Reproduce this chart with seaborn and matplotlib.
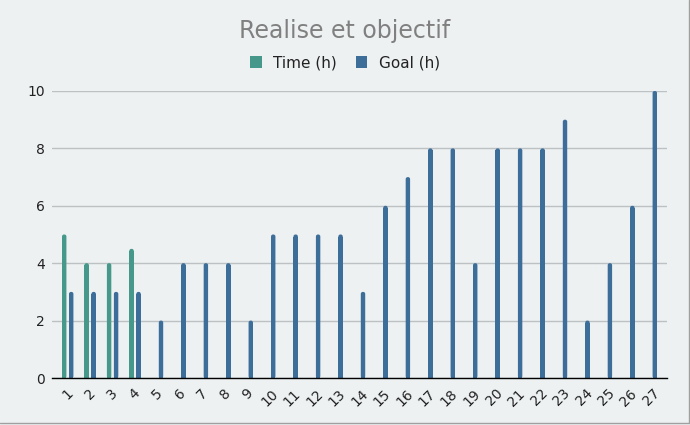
import numpy as np
import pandas as pd
import matplotlib
matplotlib.use("Agg")
import matplotlib.pyplot as plt
from matplotlib.lines import Line2D
from matplotlib.patches import Rectangle, FancyBboxPatch, BoxStyle
import seaborn as sns

days = [str(i) for i in range(1, 28)]
time_h = [5, 4, 4, 4.5] + [0] * 23
goal_h = [3, 3, 3, 3, 2, 4, 4, 4, 2, 5, 5, 5, 5, 3, 6, 7, 8, 8, 4, 8, 8, 8, 9, 2, 4, 6, 10]
series = ["Time (h)", "Goal (h)"]
colors = ["#46998a", "#3d6e9a"]
yticks = [0, 2, 4, 6, 8, 10]

df = pd.DataFrame({
    "day": days * 2,
    "value": time_h + goal_h,
    "series": [series[0]] * len(days) + [series[1]] * len(days),
})

bg = "#edf1f2"
sns.set_theme(style="white")
plt.rcParams["font.family"] = ["DejaVu Sans"]

fig = plt.figure(figsize=(6.9, 4.25), dpi=100, facecolor=bg)
ax_w_px, ax_h_px = 615, 287
ax = fig.add_axes([52 / 690, 1 - 378 / 425, ax_w_px / 690, ax_h_px / 425])
ax.set_facecolor(bg)

sns.barplot(data=df, x="day", y="value", hue="series", order=days,
            hue_order=series, palette=colors, width=0.624, gap=0.37,
            linewidth=0, errorbar=None, saturation=1, ax=ax, zorder=3)

xlim = (-0.7, 26.7)
ylim = (0, 10)
ax.set_xlim(*xlim)
ax.set_ylim(*ylim)

# rounded tops on bars
r_px = 2.0
rx = r_px * (xlim[1] - xlim[0]) / ax_w_px
ry = r_px * (ylim[1] - ylim[0]) / ax_h_px
for p in list(ax.patches):
    if isinstance(p, Rectangle) and p.get_height() > 0:
        x, y = p.get_x(), p.get_y()
        w, h = p.get_width(), p.get_height()
        fc = p.get_facecolor()
        rr = min(rx, w / 2)
        fb = FancyBboxPatch((x, y), w, h,
                            boxstyle=BoxStyle.Round(pad=0, rounding_size=rr),
                            mutation_aspect=ry / rx, facecolor=fc,
                            edgecolor="none", zorder=3)
        ax.add_patch(fb)
        p.set_height(max(h - ry, 0))

ax.set_yticks(yticks)
ax.yaxis.grid(True, color="#bcc1c3", linewidth=1.0, zorder=0)
ax.set_axisbelow(True)
for s in ["left", "right", "top"]:
    ax.spines[s].set_visible(False)
ax.spines["bottom"].set_color("black")
ax.spines["bottom"].set_linewidth(1.0)
ax.spines["bottom"].set_zorder(4)
ax.set_xlabel("")
ax.set_ylabel("")
ax.tick_params(axis="y", length=0, pad=5, labelsize=10, labelcolor="#222222")
ax.tick_params(axis="x", length=0, pad=6, labelsize=10, labelcolor="#222222")
for lab in ax.get_xticklabels():
    lab.set_rotation(45)
    lab.set_ha("center")
    lab.set_va("top")

leg = ax.get_legend()
if leg is not None:
    leg.remove()
handles = [plt.Rectangle((0, 0), 1, 1, facecolor=c, edgecolor="none") for c in colors]
fig.legend(handles, series, loc="center", bbox_to_anchor=(0.5, 1 - 63 / 425),
           ncol=2, frameon=False, fontsize=11, handlelength=0.76,
           handleheight=0.85, handletextpad=0.75, columnspacing=1.25,
           labelcolor="#222222")

fig.text(0.5, 1 - 38.3 / 425, "Realise et objectif", ha="center", va="baseline",
         fontsize=17, color="#808080")

# light frame on right and bottom edges
fig.add_artist(Line2D([688.5 / 690, 688.5 / 690], [1.6 / 425, 1], transform=fig.transFigure,
                      color="#a0a0a0", linewidth=1))
fig.add_artist(Line2D([0, 688.5 / 690], [1.6 / 425, 1.6 / 425], transform=fig.transFigure,
                      color="#a0a0a0", linewidth=1))

fig.savefig("out.png", dpi=100, facecolor=bg)
